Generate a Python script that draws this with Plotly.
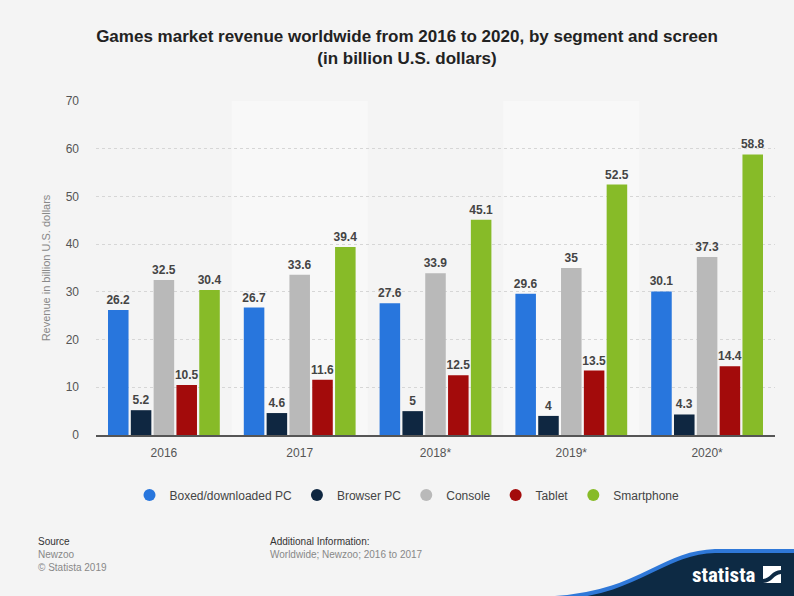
import plotly.graph_objects as go

years = ["2016", "2017", "2018*", "2019*", "2020*"]
segments = ["Boxed/downloaded PC", "Browser PC", "Console", "Tablet", "Smartphone"]
values = {
    "Boxed/downloaded PC": [26.2, 26.7, 27.6, 29.6, 30.1],
    "Browser PC": [5.2, 4.6, 5, 4, 4.3],
    "Console": [32.5, 33.6, 33.9, 35, 37.3],
    "Tablet": [10.5, 11.6, 12.5, 13.5, 14.4],
    "Smartphone": [30.4, 39.4, 45.1, 52.5, 58.8],
}
colors = {
    "Boxed/downloaded PC": "#2876dd",
    "Browser PC": "#0f2741",
    "Console": "#b9b9b9",
    "Tablet": "#a30b0b",
    "Smartphone": "#87bb28",
}

W, H = 794, 596
L, R, T, B = 96, 19, 101, 161
BG = "#f4f4f4"
FONT = "Liberation Sans, Arial, sans-serif"

fig = go.Figure()
for seg in segments:
    fig.add_trace(go.Bar(
        x=years, y=values[seg], name=seg,
        marker=dict(color=colors[seg], line=dict(width=0)),
        text=[f"{v:g}" for v in values[seg]],
        textposition="outside", cliponaxis=False, constraintext="none",
        textfont=dict(family=FONT, size=12, color="#444444", weight="bold"),
        showlegend=False,
    ))
    # legend entry with a round marker
    fig.add_trace(go.Scatter(
        x=[None], y=[None], mode="markers", name=seg,
        marker=dict(symbol="circle", size=12, color=colors[seg]),
    ))

# lighter bands behind alternate categories
shapes = []
for i in (1, 3):
    shapes.append(dict(type="rect", xref="x", yref="paper", x0=i - 0.5, x1=i + 0.5,
                       y0=0, y1=1, fillcolor="#f8f8f8", line=dict(width=0), layer="below"))

# footer logo band
def px(xp):
    return (xp - L) / (W - L - R)

def py(yp):
    return (H - B - yp) / (H - T - B)

navy_path = (f"M {px(555)},{py(598)} C {px(640)},{py(593)} {px(660)},{py(553)} {px(715)},{py(551)} "
             f"L {px(796)},{py(551)} L {px(796)},{py(598)} Z")
shapes.append(dict(type="path", xref="paper", yref="paper", path=navy_path,
                   fillcolor="#0d2a44", line=dict(color="#2f78d8", width=4)))
# icon square
shapes.append(dict(type="rect", xref="paper", yref="paper",
                   x0=px(763), x1=px(781), y0=py(583), y1=py(566),
                   fillcolor="white", line=dict(width=0)))
shapes.append(dict(type="path", xref="paper", yref="paper",
                   path=(f"M {px(763)},{py(579)} C {px(770)},{py(579)} {px(772)},{py(570)} {px(781)},{py(570)} "
                         f"L {px(781)},{py(574)} C {px(774)},{py(574)} {px(772)},{py(583)} {px(763)},{py(583)} Z"),
                   fillcolor="#0d2a44", line=dict(width=0)))

annotations = [
    dict(text="Source", x=px(36), y=py(541), xref="paper", yref="paper", xanchor="left",
         yanchor="middle", showarrow=False, font=dict(family=FONT, size=10, color="#333333")),
    dict(text="Newzoo", x=px(36), y=py(554), xref="paper", yref="paper", xanchor="left",
         yanchor="middle", showarrow=False, font=dict(family=FONT, size=10, color="#888888")),
    dict(text="© Statista 2019", x=px(36), y=py(567), xref="paper", yref="paper", xanchor="left",
         yanchor="middle", showarrow=False, font=dict(family=FONT, size=10, color="#888888")),
    dict(text="Additional Information:", x=px(268), y=py(541), xref="paper", yref="paper",
         xanchor="left", yanchor="middle", showarrow=False,
         font=dict(family=FONT, size=10, color="#333333")),
    dict(text="Worldwide; Newzoo; 2016 to 2017", x=px(268), y=py(554), xref="paper", yref="paper",
         xanchor="left", yanchor="middle", showarrow=False,
         font=dict(family=FONT, size=10, color="#888888")),
    dict(text="<b>statista</b>", x=px(758), y=py(575), xref="paper", yref="paper",
         xanchor="right", yanchor="middle", showarrow=False,
         font=dict(family="Roboto Condensed, Liberation Sans Narrow, " + FONT, size=21, color="white")),
]

fig.update_layout(
    width=W, height=H,
    margin=dict(l=L, r=R, t=T, b=B, pad=0),
    paper_bgcolor=BG, plot_bgcolor=BG,
    font=dict(family=FONT, color="#555555"),
    title=dict(text="<b>Games market revenue worldwide from 2016 to 2020, by segment and screen<br>(in billion U.S. dollars)</b>",
               x=407 / W, xref="container", xanchor="center", y=1 - 42 / H, yanchor="middle",
               font=dict(family=FONT, size=17, color="#222222")),
    barmode="group", bargap=0.16, bargroupgap=0.1,
    xaxis=dict(type="category", showgrid=False, showline=True, linecolor="#555555", linewidth=1.5,
               tickfont=dict(family=FONT, size=12, color="#555555"), ticks="", ticklabelstandoff=6,
               range=[-0.5, 4.5], fixedrange=True),
    yaxis=dict(range=[0, 70], dtick=10, showgrid=True, gridcolor="#d6d6d6", griddash="dot",
               gridwidth=1, zeroline=False, showline=False,
               tickfont=dict(family=FONT, size=12, color="#555555"), ticks="", ticklabelstandoff=16,
               title=dict(text="Revenue in billion U.S. dollars", standoff=12,
                          font=dict(family=FONT, size=11, color="#888888"))),
    legend=dict(orientation="h", x=px(407), xanchor="center", y=py(495), yanchor="middle",
                font=dict(family=FONT, size=12, color="#444444"), bgcolor="rgba(0,0,0,0)",
                itemwidth=30, itemclick=False, itemdoubleclick=False),
    shapes=shapes, annotations=annotations,
)

fig.write_html("out.html")
